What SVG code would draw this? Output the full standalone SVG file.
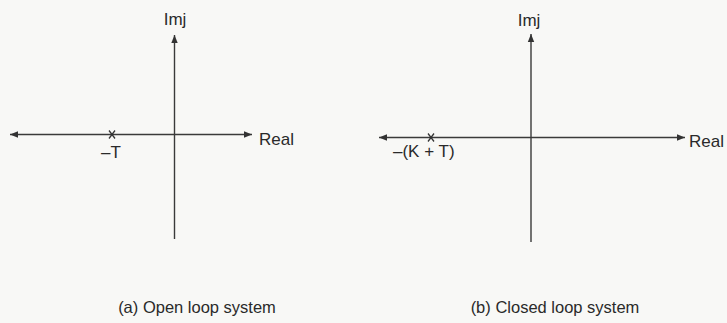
<svg xmlns="http://www.w3.org/2000/svg" width="727" height="323" viewBox="0 0 727 323">
<style>
.ax{stroke:#3a3a3a;stroke-width:1.4;fill:none}
.pole{stroke:#333;stroke-width:1.3}
text{font-family:"Liberation Sans",Arial,sans-serif;fill:#2a2a2a}
.lbl{font-size:17px}
.cap{font-size:16.5px;text-anchor:middle}
</style>
<defs>
<marker id="ah" viewBox="0 0 10 10" refX="10" refY="5" markerWidth="8" markerHeight="8" markerUnits="userSpaceOnUse" orient="auto-start-reverse">
<path d="M0,1 L10,5 L0,9 Z" fill="#333"/>
</marker>
</defs>
<rect width="727" height="323" fill="#f8f8f6"/>
<g id="connectors">
<line class="ax" x1="10" y1="134.5" x2="252" y2="134.5" marker-start="url(#ah)" marker-end="url(#ah)"/>
<line class="ax" x1="174.5" y1="239" x2="174.5" y2="35" marker-end="url(#ah)"/>
<line class="ax" x1="379" y1="137.5" x2="685" y2="137.5" marker-start="url(#ah)" marker-end="url(#ah)"/>
<line class="ax" x1="531" y1="242" x2="531" y2="34" marker-end="url(#ah)"/>
</g>
<g id="diagram-a">
<text class="lbl" x="175" y="25" text-anchor="middle">Imj</text>
<text class="lbl" x="259" y="145">Real</text>
<g id="pole-a"><line class="pole" x1="109" y1="130.5" x2="115" y2="138.5"/><line class="pole" x1="115" y1="130.5" x2="109" y2="138.5"/></g>
<text class="lbl" x="111" y="158" text-anchor="middle">–T</text>
<text class="cap" x="197" y="313">(a) Open loop system</text>
</g>
<g id="diagram-b">
<text class="lbl" x="529" y="26" text-anchor="middle">Imj</text>
<text class="lbl" x="689" y="147">Real</text>
<g id="pole-b"><line class="pole" x1="428" y1="133.5" x2="434" y2="141.5"/><line class="pole" x1="434" y1="133.5" x2="428" y2="141.5"/></g>
<text class="lbl" x="393" y="157">–(K + T)</text>
<text class="cap" x="555" y="313">(b) Closed loop system</text>
</g>
</svg>
